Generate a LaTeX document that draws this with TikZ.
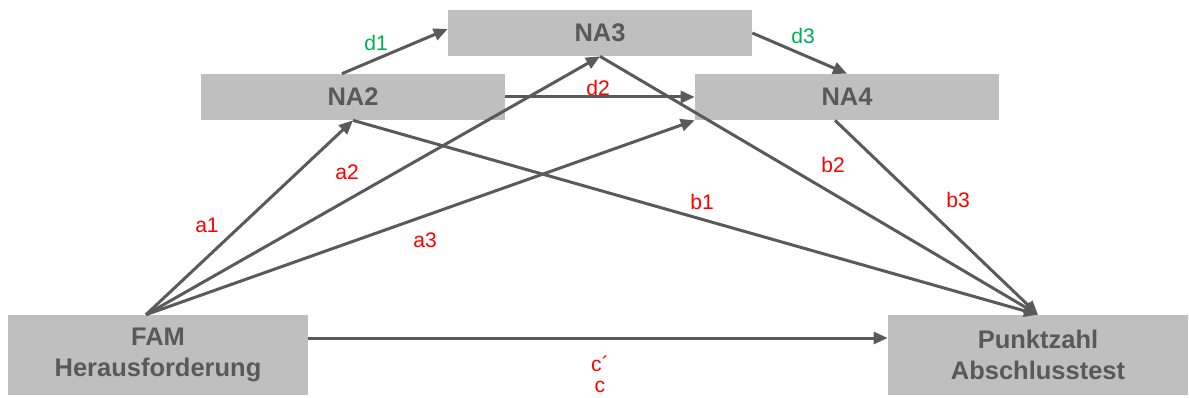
\documentclass[tikz,border=0pt]{standalone}
\usepackage{fontspec}
\setmainfont{Liberation Sans}
\usetikzlibrary{arrows.meta}
\definecolor{boxgrau}{HTML}{BFBFBF}
\definecolor{textgrau}{HTML}{595959}
\definecolor{pfeilgrau}{HTML}{5A5A5A}
\definecolor{gruen}{HTML}{00B050}
\begin{document}
\begin{tikzpicture}[
    x=0.02cm, y=-0.02cm,
    kasten/.style={fill=boxgrau, minimum width=6.08cm, minimum height=0.92cm, align=center, inner sep=0pt,
        text=textgrau, font=\fontsize{14.5}{17.6}\selectfont\bfseries},
    grosskasten/.style={kasten, minimum width=6.0cm, minimum height=1.6cm},
    pfad/.style={text=red, font=\fontsize{12}{14}\selectfont},
    pfadgruen/.style={pfad, text=gruen},
    pfeil/.style={-{Triangle[length=0.28cm,width=0.24cm]}, line width=0.06cm, draw=pfeilgrau}
]
\useasboundingbox (0,0) rectangle (1189,398);

\node[grosskasten] (fam) at (158,355) {FAM\\Herausforderung};
\node[grosskasten] (punkt) at (1038,355) {Punktzahl\\Abschlusstest};

\node[kasten] (na2) at (353,97) {NA2};
\node[kasten] (na3) at (600,33) {NA3};
\node[kasten] (na4) at (847,97) {NA4};

\node[pfadgruen] (ld1) at (376,43) {d1};
\node[pfad] (ld2) at (598,88) {d2};
\node[pfadgruen] (ld3) at (803,36) {d3};
\node[pfad] (la1) at (207,225) {a1};
\node[pfad] (la2) at (347,172) {a2};
\node[pfad] (la3) at (425,240) {a3};
\node[pfad] (lb1) at (702,202) {b1};
\node[pfad] (lb2) at (833,165) {b2};
\node[pfad] (lb3) at (958,200) {b3};
\node[pfad] (lc1) at (600,364) {c\textasciiacute};
\node[pfad] (lc) at (600,387) {c};

% a-Pfade
\draw[pfeil] ([xshift=-0.24cm]fam.north) -- (na2.south);
\draw[pfeil] ([xshift=-0.24cm]fam.north) -- (na3.south);
\draw[pfeil] ([xshift=-0.24cm]fam.north) -- (na4.south west);

% d-Pfade
\draw[pfeil] ([xshift=-0.22cm]na2.north) -- ([yshift=0.08cm]na3.west);
\draw[pfeil] (na2.east) -- (na4.west);
\draw[pfeil] (na3.east) -- (na4.north);

% b-Pfade
\draw[pfeil] (na2.south) -- (punkt.north);
\draw[pfeil] (na3.south) -- (punkt.north);
\draw[pfeil] ([xshift=-0.24cm]na4.south) -- (punkt.north);

% c
\draw[pfeil] ([yshift=0.34cm]fam.east) -- ([yshift=0.34cm]punkt.west);
\end{tikzpicture}
\end{document}
